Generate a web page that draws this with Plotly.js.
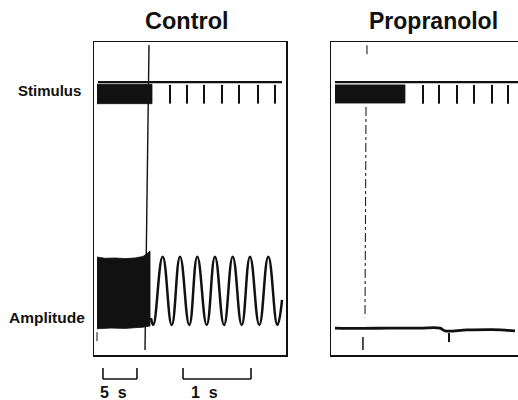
<!DOCTYPE html>
<html>
<head>
<meta charset="utf-8">
<script src="https://cdn.plot.ly/plotly-3.0.1.min.js"></script>
<style>html,body{margin:0;padding:0;background:#fff;}#chart{width:518px;height:400px;}</style>
</head>
<body>
<div id="chart"></div>
<script>
// x: chart time in seconds at the fast paper speed; y: arbitrary trace units (0-100)
// ---- Control panel ----
const ctrlStimLineX = [0.059, 2.765];
const ctrlStimLineY = [87.2, 87.2];
const ctrlStimBlockX = [0.044, 0.853, 0.853, 0.044];
const ctrlStimBlockY = [86.5, 86.5, 80.3, 80.3];
const ctrlStimTicks = [1.118, 1.368, 1.618, 1.882, 2.132, 2.412, 2.662];
const stimTickLow = 80.3, stimTickHigh = 86.3;

const ctrlAmpBlockX = [0.044, 0.162, 0.309, 0.456, 0.603, 0.721, 0.779, 0.824, 0.824, 0.721, 0.456, 0.250, 0.044];
const ctrlAmpBlockY = [31.3, 30.9, 31.0, 30.8, 31.0, 31.5, 32.4, 33.2, 9.3, 8.9, 8.5, 8.6, 8.4];

const ctrlSineX = [0.838, 0.872, 1.010, 1.143, 1.265, 1.401, 1.519, 1.657, 1.779, 1.912, 2.040, 2.172, 2.294, 2.431, 2.563, 2.696, 2.765];
const ctrlSineY = [11.8, 9.6, 31.4, 9.6, 31.4, 9.6, 31.4, 9.6, 31.4, 9.6, 31.4, 9.6, 31.4, 9.6, 31.4, 9.6, 17.6];

const ctrlEventX = [0.809, 0.750];
const ctrlEventY = [99.0, 1.6];
const ctrlStartX = [0.044, 0.044];
const ctrlStartY = [7.3, 1.6];

// ---- Propranolol panel ----
const propStimLineX = [0.059, 2.75];
const propStimLineY = [87.2, 87.2];
const propStimBlockX = [0.059, 1.088, 1.088, 0.059];
const propStimBlockY = [86.3, 86.3, 80.5, 80.5];
const propStimTicks = [1.353, 1.588, 1.853, 2.103, 2.368, 2.603];

const propAmpX = [0.059, 0.426, 0.868, 1.309, 1.603, 1.676, 2.0, 2.382, 2.706];
const propAmpY = [8.6, 8.5, 8.6, 8.6, 8.6, 7.7, 8.0, 8.1, 7.7];

const propEventX = [0.529, 0.529, null, 0.515, 0.500];
const propEventY = [99.0, 95.2, null, 79.2, 12.1];
const propMark1X = [0.47, 0.47];
const propMark1Y = [5.75, 1.6];
const propMark2X = [1.735, 1.735];
const propMark2Y = [7.0, 2.2];

// ---- Scale bars (seconds on the fast axis) ----
const scaleBarStart = [0.132, 1.309];
const scaleBarEnd = [0.632, 2.309];
const scaleBarLabels = ['5\u00a0\u00a0s', '1\u00a0\u00a0s'];
const scaleLabelX = [0.294, 1.625];

const panelTitles = ['Control', 'Propranolol'];
const rowLabels = ['Stimulus', 'Amplitude'];
const rowLabelY = [84.6, 12.1];

const ink = '#111111';
const fontFam = 'Liberation Sans, Arial, sans-serif';

function segs(xs, lo, hi) {
  const X = [], Y = [];
  xs.forEach(v => { X.push(v, v, null); Y.push(lo, hi, null); });
  return {X, Y};
}

const cT = segs(ctrlStimTicks, stimTickLow, stimTickHigh);
const pT = segs(propStimTicks, stimTickLow, stimTickHigh);

const traces = [
  // control
  {x: ctrlEventX, y: ctrlEventY, mode: 'lines', line: {color: ink, width: 1.4}, xaxis: 'x', yaxis: 'y'},
  {x: ctrlStartX, y: ctrlStartY, mode: 'lines', line: {color: ink, width: 1, dash: 'dash'}, xaxis: 'x', yaxis: 'y'},
  {x: ctrlStimLineX, y: ctrlStimLineY, mode: 'lines', line: {color: ink, width: 2.2}, xaxis: 'x', yaxis: 'y'},
  {x: ctrlStimBlockX, y: ctrlStimBlockY, mode: 'lines', fill: 'toself', fillcolor: ink, line: {color: ink, width: 0.8}, xaxis: 'x', yaxis: 'y'},
  {x: cT.X, y: cT.Y, mode: 'lines', line: {color: ink, width: 2}, connectgaps: false, xaxis: 'x', yaxis: 'y'},
  {x: ctrlAmpBlockX, y: ctrlAmpBlockY, mode: 'lines', fill: 'toself', fillcolor: ink, line: {color: ink, width: 0.8}, xaxis: 'x', yaxis: 'y'},
  {x: ctrlSineX, y: ctrlSineY, mode: 'lines', line: {color: ink, width: 2.5, shape: 'spline', smoothing: 1.3}, xaxis: 'x', yaxis: 'y'},
  // propranolol
  {x: propEventX, y: propEventY, mode: 'lines', line: {color: '#222', width: 1.1, dash: 'dashdot'}, connectgaps: false, xaxis: 'x2', yaxis: 'y2'},
  {x: propMark1X, y: propMark1Y, mode: 'lines', line: {color: ink, width: 1.5}, xaxis: 'x2', yaxis: 'y2'},
  {x: propMark2X, y: propMark2Y, mode: 'lines', line: {color: ink, width: 2, dash: 'dash'}, xaxis: 'x2', yaxis: 'y2'},
  {x: propStimLineX, y: propStimLineY, mode: 'lines', line: {color: ink, width: 2.2}, xaxis: 'x2', yaxis: 'y2'},
  {x: propStimBlockX, y: propStimBlockY, mode: 'lines', fill: 'toself', fillcolor: ink, line: {color: ink, width: 0.8}, xaxis: 'x2', yaxis: 'y2'},
  {x: pT.X, y: pT.Y, mode: 'lines', line: {color: ink, width: 2}, connectgaps: false, xaxis: 'x2', yaxis: 'y2'},
  {x: propAmpX, y: propAmpY, mode: 'lines', line: {color: ink, width: 2.8, shape: 'spline'}, xaxis: 'x2', yaxis: 'y2'}
];

const axisBase = {showgrid: false, zeroline: false, showticklabels: false, ticks: '', showline: true, linecolor: ink, linewidth: 1.5, fixedrange: true};
const yDomain = [0.1125, 0.895];

const shapes = [];
for (let i = 0; i < scaleBarStart.length; i++) {
  const a = scaleBarStart[i], b = scaleBarEnd[i];
  shapes.push({type: 'line', xref: 'x', yref: 'paper', x0: a, x1: a, y0: 0.08, y1: 0.0525, line: {color: ink, width: 1.6}});
  shapes.push({type: 'line', xref: 'x', yref: 'paper', x0: a, x1: b, y0: 0.0525, y1: 0.0525, line: {color: ink, width: 1.6}});
  shapes.push({type: 'line', xref: 'x', yref: 'paper', x0: b, x1: b, y0: 0.08, y1: 0.0525, line: {color: ink, width: 1.6}});
}

function ann(text, xref, yref, x, y, size, xanchor) {
  return {text: text, xref: xref, yref: yref, x: x, y: y, showarrow: false, xanchor: xanchor, yanchor: 'middle',
          font: {family: fontFam, size: size, color: ink, weight: 'bold'}};
}

const annotations = [
  ann(panelTitles[0], 'paper', 'paper', 0.361, 0.9475, 23.5, 'center'),
  ann(panelTitles[1], 'paper', 'paper', 0.836, 0.9475, 23, 'center'),
  ann(rowLabels[0], 'paper', 'y', 0.160, rowLabelY[0], 15, 'right'),
  ann(rowLabels[1], 'paper', 'y', 0.168, rowLabelY[1], 15.5, 'right'),
  ann(scaleBarLabels[0], 'x', 'paper', scaleLabelX[0], 0.02, 16, 'center'),
  ann(scaleBarLabels[1], 'x', 'paper', scaleLabelX[1], 0.02, 16, 'center')
];

const layout = {
  width: 518, height: 400,
  margin: {l: 0, r: 0, t: 0, b: 0, pad: 0},
  paper_bgcolor: '#ffffff', plot_bgcolor: '#ffffff',
  showlegend: false,
  xaxis: Object.assign({}, axisBase, {domain: [94/518, 286/518], range: [0, 192/68], mirror: true, anchor: 'y'}),
  yaxis: Object.assign({}, axisBase, {domain: yDomain, range: [0, 100], mirror: true, anchor: 'x'}),
  xaxis2: Object.assign({}, axisBase, {domain: [331/518, 1], range: [0, 187/68], mirror: true, anchor: 'y2'}),
  yaxis2: Object.assign({}, axisBase, {domain: yDomain, range: [0, 100], mirror: false, anchor: 'x2'}),
  shapes: shapes,
  annotations: annotations
};

Plotly.newPlot('chart', traces, layout, {staticPlot: true, displayModeBar: false});
</script>
</body>
</html>
